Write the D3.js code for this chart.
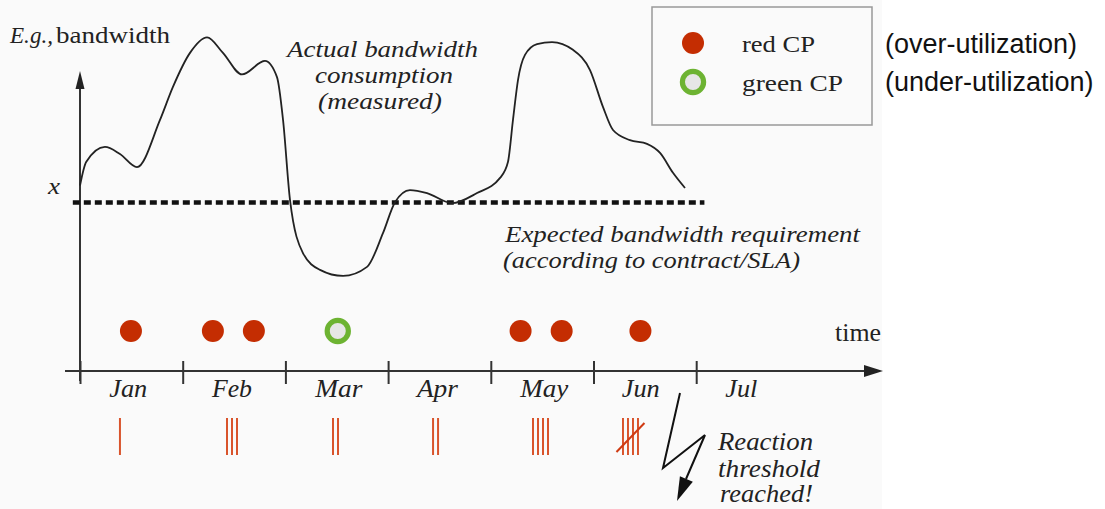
<!DOCTYPE html>
<html>
<head>
<meta charset="utf-8">
<script src="https://cdn.jsdelivr.net/npm/d3@7"></script>
<style>
  html, body { margin: 0; padding: 0; background: #ffffff; }
  svg { display: block; }
  .serif { font-family: "Liberation Serif", "Times New Roman", Times, serif; }
  .sans { font-family: "Liberation Sans", Arial, Helvetica, sans-serif; }
</style>
</head>
<body>
<script>
// ---------------- data ----------------
const months = ["Jan", "Feb", "Mar", "Apr", "May", "Jun", "Jul"];
const monthLabelPos = [0.47, 1.48, 2.52, 3.48, 4.52, 5.46, 6.44];

// measured bandwidth (time in months from Jan 1, arbitrary bandwidth units)
const bandwidthMonth = [0.0, 0.06, 0.243, 0.389, 0.555, 0.779, 0.905, 1.071, 1.237,
  1.392, 1.577, 1.801, 1.918, 1.977, 2.045, 2.171, 2.337, 2.561, 2.795, 2.950, 3.067,
  3.213, 3.379, 3.622, 3.866, 4.090, 4.167, 4.216, 4.265, 4.333, 4.450, 4.596, 4.800, 4.966,
  5.093, 5.190, 5.355, 5.521, 5.648, 5.774, 5.891];
const bandwidthValue = [55.0, 62.0, 66.5, 64.4, 60.5, 74.5, 84.3, 94.4, 99.0,
  94.4, 88.0, 92.0, 87.2, 74.5, 50.7, 35.0, 30.0, 28.2, 30.9, 40.9, 50.1,
  53.7, 52.8, 49.8, 52.8, 57.3, 62.0, 74.5, 86.4, 93.8, 97.0, 97.6, 95.3, 89.3,
  78.3, 71.5, 68.5, 67.4, 64.7, 58.8, 54.3];

const expectedValue = 50;          // "x" – contracted bandwidth
const expectedRange = [-0.07, 6.08];

// compliance points (CP)
const cpMonth = [0.496, 1.294, 1.693, 2.510, 4.290, 4.690, 5.457];
const cpType  = ["red", "red", "red", "green", "red", "red", "red"];

// tally of red CPs per month
const tallyMonth   = [0.389, 1.48, 2.488, 3.462, 4.484, 5.36];
const tallyCount   = [1, 3, 2, 2, 4, 4];
const tallyCrossed = [false, false, false, false, false, true];

const legendLabels = ["red CP", "green CP"];
const legendNotes  = ["(over-utilization)", "(under-utilization)"];

// ---------------- layout ----------------
const W = 1105, H = 509;
const svg = d3.select("body").append("svg").attr("width", W).attr("height", H);

svg.append("rect").attr("x", 0).attr("y", 0).attr("width", 882).attr("height", H)
  .attr("fill", "#fafafa");

const x = d3.scaleLinear().domain([0, 1]).range([80, 182.7]);
const y = d3.scaleLinear().domain([0, 100]).range([371, 34]);

const ink = "#222222";

function label(txt, x0, base, width, size, italic, cls) {
  const t = svg.append("text")
    .attr("class", cls || "serif")
    .attr("x", x0).attr("y", base)
    .style("font-size", size + "px")
    .style("font-style", italic ? "italic" : "normal")
    .attr("fill", ink)
    .text(txt);
  if (width) t.attr("textLength", width).attr("lengthAdjust", "spacingAndGlyphs");
  return t;
}

// ---------------- axes ----------------
const axisY = y(0);
svg.append("line").attr("x1", 65).attr("x2", 866).attr("y1", axisY).attr("y2", axisY)
  .attr("stroke", "#333").attr("stroke-width", 2);
svg.append("path")
  .attr("d", `M883,${axisY} L864,${axisY - 6} L864,${axisY + 6} Z`)
  .attr("fill", "#222");

const xAxis = d3.axisBottom(x).tickValues(d3.range(0, 7)).tickFormat("").tickSize(12);
const gx = svg.append("g").attr("transform", `translate(0,${axisY})`).call(xAxis);
gx.select(".domain").remove();
gx.selectAll(".tick line").attr("y1", -10).attr("y2", 13)
  .attr("stroke", "#333").attr("stroke-width", 2);

svg.append("line").attr("x1", x(0)).attr("x2", x(0)).attr("y1", 381).attr("y2", 86)
  .attr("stroke", "#333").attr("stroke-width", 2);
svg.append("path")
  .attr("d", `M${x(0)},71 L${x(0) - 4.5},89 L${x(0) + 4.5},89 Z`)
  .attr("fill", "#222");

const monthWidths = [38, 40, 47, 41, 48, 38, 32];
months.forEach((m, i) => {
  label(m, x(monthLabelPos[i]) - monthWidths[i] / 2, 397, monthWidths[i], 25, true);
});

// ---------------- expected bandwidth (dashed) ----------------
svg.append("line")
  .attr("x1", x(expectedRange[0])).attr("x2", x(expectedRange[1]))
  .attr("y1", y(expectedValue)).attr("y2", y(expectedValue))
  .attr("stroke", "#111").attr("stroke-width", 4.5)
  .attr("stroke-dasharray", "7,4");

// ---------------- measured curve ----------------
const pts = bandwidthMonth.map((m, i) => [m, bandwidthValue[i]]);
const line = d3.line().x(d => x(d[0])).y(d => y(d[1])).curve(d3.curveMonotoneX);
svg.append("path").attr("d", line(pts))
  .attr("fill", "none").attr("stroke", ink).attr("stroke-width", 1.8);

// ---------------- CPs ----------------
const red = "#c42d02", green = "#6db332", greenFill = "#e6e6e6";
const cpY = 331;
cpMonth.forEach((m, i) => {
  if (cpType[i] === "red") {
    svg.append("circle").attr("cx", x(m)).attr("cy", cpY).attr("r", 11).attr("fill", red);
  } else {
    svg.append("circle").attr("cx", x(m)).attr("cy", cpY).attr("r", 10.6)
      .attr("fill", greenFill).attr("stroke", green).attr("stroke-width", 5.2);
  }
});

// ---------------- tallies ----------------
const tallyCol = "#d9542c";
tallyMonth.forEach((m, i) => {
  const n = tallyCount[i];
  const cx = x(m);
  for (let k = 0; k < n; k++) {
    const xx = cx + (k - (n - 1) / 2) * 5;
    svg.append("line").attr("x1", xx).attr("x2", xx).attr("y1", 418).attr("y2", 455)
      .attr("stroke", tallyCol).attr("stroke-width", 2);
  }
  if (tallyCrossed[i]) {
    svg.append("line").attr("x1", cx - 14).attr("y1", 452).attr("x2", cx + 14).attr("y2", 423)
      .attr("stroke", "#cf3a12").attr("stroke-width", 2);
  }
});

// ---------------- lightning bolt ----------------
svg.append("path")
  .attr("d", "M680,393 L663,468 L705,435 L686,479")
  .attr("fill", "none").attr("stroke", "#111").attr("stroke-width", 2);
(function () {
  const tip = [677, 501], from = [705, 435];
  const dx = tip[0] - from[0], dy = tip[1] - from[1];
  const len = Math.hypot(dx, dy), ux = dx / len, uy = dy / len;
  const bx = tip[0] - ux * 24, by = tip[1] - uy * 24;
  const px = -uy, py = ux;
  svg.append("path")
    .attr("d", `M${tip[0]},${tip[1]} L${bx + px * 7},${by + py * 7} L${bx - px * 7},${by - py * 7} Z`)
    .attr("fill", "#111");
})();

// ---------------- annotations ----------------
label("E.g.,", 10, 43, 43, 23, true);
label("bandwidth", 56, 43, 114, 23, false);
label("x", 48, 194, 12, 24, true);

label("Actual bandwidth", 287, 57, 191, 24, true);
label("consumption", 315, 83, 138, 24, true);
label("(measured)", 318, 109, 124, 24, true);

label("Expected bandwidth requirement", 505, 242, 355, 24, true);
label("(according to contract/SLA)", 503, 268, 297, 24, true);

label("time", 835, 341, 46, 25, false);

label("Reaction", 718, 450, 95, 25, true);
label("threshold", 718, 477, 102, 25, true);
label("reached!", 720, 502, 93, 25, true);

// ---------------- legend ----------------
svg.append("rect").attr("x", 652).attr("y", 7).attr("width", 220).attr("height", 118)
  .attr("fill", "#fafafa").attr("stroke", "#999").attr("stroke-width", 1.5);
svg.append("circle").attr("cx", 693).attr("cy", 43).attr("r", 11).attr("fill", red);
svg.append("circle").attr("cx", 693).attr("cy", 82).attr("r", 10.6)
  .attr("fill", greenFill).attr("stroke", green).attr("stroke-width", 5.2);
label(legendLabels[0], 742, 52, 73, 24, false);
label(legendLabels[1], 742, 91, 101, 24, false);
label(legendNotes[0], 885, 53, null, 27, false, "sans").attr("fill", "#111");
label(legendNotes[1], 885, 91, null, 27, false, "sans").attr("fill", "#111");
</script>
</body>
</html>
